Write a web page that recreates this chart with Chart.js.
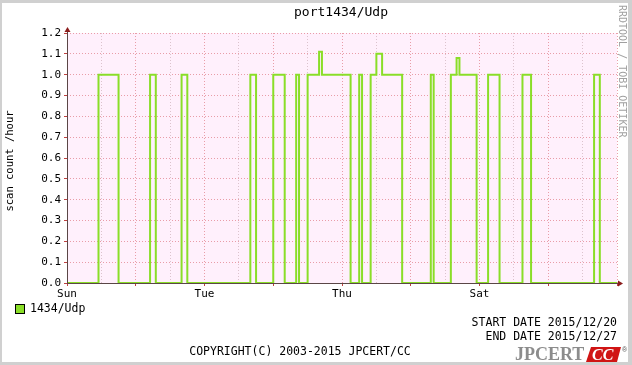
<!DOCTYPE html>
<html>
<head>
<meta charset="utf-8">
<script src="https://cdn.jsdelivr.net/npm/chart.js@4"></script>
<style>
  html, body { margin: 0; padding: 0; background: #fff; }
  canvas { display: block; }
</style>
</head>
<body>
<canvas id="portChart" width="632" height="365"></canvas>
<script>
// グラフのタイトル・系列名
const title = 'port1434/Udp';
const seriesLabel = '1434/Udp';
// 値が変わる時刻（開始からの時間、h）と、その時刻からの値
const changeHours = [0, 11, 18, 29, 31, 40, 42, 64, 66, 72, 76, 80, 81, 84, 88, 89, 99,
    102, 103, 106, 108, 110, 117, 127, 128, 134, 136, 137, 143, 147, 151, 159, 162, 184, 186, 192];
const changeValues = [0, 1, 0, 1, 0, 1, 0, 1, 0, 1, 0, 1, 0, 1, 1.11, 1, 0,
    1, 0, 1, 1.1, 1, 0, 1, 0, 1, 1.08, 1, 0, 1, 0, 1, 0, 1, 0, 0];
// X軸のラベル
const dayTickHours = [0, 48, 96, 144];
const dayTickLabels = ['Sun', 'Tue', 'Thu', 'Sat'];
const startDate = '2015/12/20';
const endDate = '2015/12/27';

const mono = "'DejaVu Sans Mono', monospace";
const lineColor = '#8ade28';
const gridRed = 'rgba(226, 130, 140, 0.75)';
const gridLight = 'rgba(205, 175, 185, 0.7)';

// 背景・軸・文字の描画
const framePlugin = {
    id: 'frame',
    beforeDraw(chart) {
        const ctx = chart.ctx;
        const a = chart.chartArea;
        ctx.save();
        ctx.fillStyle = '#d0d0d0';
        ctx.fillRect(0, 0, chart.width, chart.height);
        ctx.fillStyle = '#ffffff';
        ctx.fillRect(2, 3, chart.width - 6, chart.height - 6);
        ctx.fillStyle = '#fff0fc';
        ctx.fillRect(a.left, a.top, a.right - a.left, a.bottom - a.top);
        ctx.restore();
    },
    afterDraw(chart) {
        const ctx = chart.ctx;
        const a = chart.chartArea;
        ctx.save();
        // 軸
        ctx.strokeStyle = '#5a4646';
        ctx.lineWidth = 1;
        ctx.beginPath();
        ctx.moveTo(a.left + 0.5, a.bottom);
        ctx.lineTo(a.left + 0.5, a.top - 4);
        ctx.moveTo(a.left, a.bottom + 0.5);
        ctx.lineTo(a.right + 4, a.bottom + 0.5);
        ctx.stroke();
        ctx.fillStyle = '#8b1c1c';
        ctx.beginPath();
        ctx.moveTo(a.left - 2.5, a.top - 1);
        ctx.lineTo(a.left + 3.5, a.top - 1);
        ctx.lineTo(a.left + 0.5, a.top - 6);
        ctx.closePath();
        ctx.fill();
        ctx.beginPath();
        ctx.moveTo(a.right + 1, a.bottom - 2.5);
        ctx.lineTo(a.right + 1, a.bottom + 3.5);
        ctx.lineTo(a.right + 6, a.bottom + 0.5);
        ctx.closePath();
        ctx.fill();

        // タイトル
        ctx.fillStyle = '#000';
        ctx.font = '13px ' + mono;
        ctx.textAlign = 'center';
        ctx.textBaseline = 'middle';
        ctx.fillText(title, 341, 13);

        // Y軸のタイトル
        ctx.save();
        ctx.translate(10, 161);
        ctx.rotate(-Math.PI / 2);
        ctx.font = '10.5px ' + mono;
        ctx.fillText('scan count /hour', 0, 0);
        ctx.restore();

        // 右端の縦書き
        ctx.save();
        ctx.translate(622, 5);
        ctx.rotate(Math.PI / 2);
        ctx.fillStyle = '#a0a0a0';
        ctx.font = '10px ' + mono;
        ctx.textAlign = 'left';
        ctx.fillText('RRDTOOL / TOBI OETIKER', 0, 0);
        ctx.restore();

        // 凡例
        ctx.fillStyle = lineColor;
        ctx.fillRect(15.5, 304.5, 9, 9);
        ctx.strokeStyle = '#000';
        ctx.strokeRect(15.5, 304.5, 9, 9);
        ctx.fillStyle = '#000';
        ctx.font = '11.5px ' + mono;
        ctx.textAlign = 'left';
        ctx.fillText(seriesLabel, 30, 309.5);

        // 日付とコピーライト
        ctx.textAlign = 'right';
        ctx.fillText('START DATE ' + startDate, 617, 323);
        ctx.fillText('END DATE ' + endDate, 617, 337);
        ctx.textAlign = 'center';
        ctx.fillText('COPYRIGHT(C) 2003-2015 JPCERT/CC', 300, 352);

        // ロゴ
        ctx.textAlign = 'left';
        ctx.font = 'bold 18px "Liberation Serif", serif';
        ctx.fillStyle = '#8c8c8c';
        ctx.fillText('JPCERT', 515, 355);
        ctx.fillStyle = '#d01414';
        ctx.beginPath();
        ctx.moveTo(591, 347);
        ctx.lineTo(621, 347);
        ctx.lineTo(617, 362);
        ctx.lineTo(586, 362);
        ctx.closePath();
        ctx.fill();
        ctx.fillStyle = '#fff';
        ctx.font = 'italic bold 16px "Liberation Serif", serif';
        ctx.fillText('CC', 592, 355.5);
        ctx.fillStyle = '#555';
        ctx.font = '7px sans-serif';
        ctx.fillText('®', 622, 350);
        ctx.restore();
    }
};

const points = changeHours.map((h, i) => ({ x: h, y: changeValues[i] }));

const chart = new Chart(document.getElementById('portChart').getContext('2d'), {
    type: 'line',
    data: {
        datasets: [{
            label: seriesLabel,
            data: points,
            // 各点の値を次の点まで水平に保つ
            stepped: 'before',
            borderColor: lineColor,
            borderWidth: 2,
            pointRadius: 0,
            fill: false
        }]
    },
    options: {
        responsive: false,
        animation: false,
        devicePixelRatio: 1,
        layout: { padding: { left: 0, top: 33, right: 15, bottom: 0 } },
        plugins: {
            legend: { display: false },
            title: { display: false },
            tooltip: { enabled: false }
        },
        scales: {
            x: {
                type: 'linear',
                min: 0,
                max: 192,
                afterFit: s => { s.height = 82; },
                border: { display: false, dash: [1, 2] },
                grid: {
                    color: c => (c.tick && c.tick.value % 24 === 0) ? gridRed : gridLight,
                    tickColor: c => (c.tick && c.tick.value % 24 === 0) ? '#c04040' : 'rgba(0,0,0,0)',
                    tickLength: 3
                },
                ticks: {
                    stepSize: 12,
                    autoSkip: false,
                    maxRotation: 0,
                    padding: 2,
                    color: '#000',
                    font: { family: 'DejaVu Sans Mono', size: 11 },
                    callback: v => {
                        const i = dayTickHours.indexOf(v);
                        return i >= 0 ? dayTickLabels[i] : '';
                    }
                }
            },
            y: {
                min: 0,
                max: 1.2,
                afterFit: s => { s.width = 67; },
                border: { display: false, dash: [1, 2] },
                grid: {
                    color: gridRed,
                    tickColor: '#c04040',
                    tickLength: 3
                },
                ticks: {
                    stepSize: 0.1,
                    padding: 3,
                    color: '#000',
                    font: { family: 'DejaVu Sans Mono', size: 11 },
                    callback: v => v.toFixed(1)
                }
            }
        }
    },
    plugins: [framePlugin]
});
</script>
</body>
</html>
